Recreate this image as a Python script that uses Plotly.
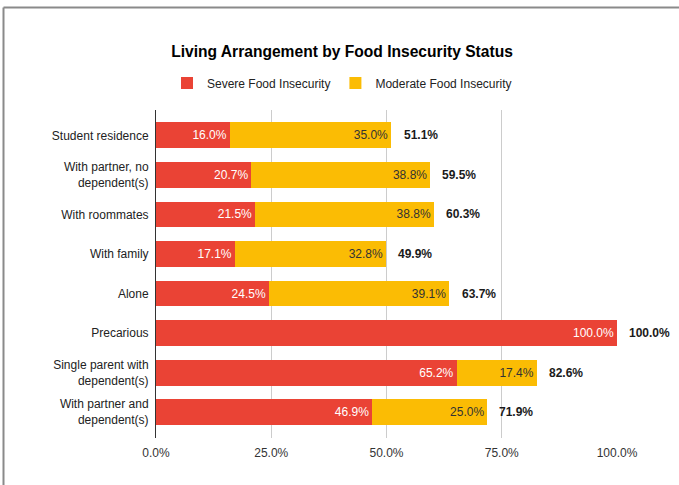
import plotly.graph_objects as go

categories = ["Student residence", "With partner, no<br>dependent(s)", "With roommates",
              "With family", "Alone", "Precarious", "Single parent with<br>dependent(s)",
              "With partner and<br>dependent(s)"]
severe = [16.0, 20.7, 21.5, 17.1, 24.5, 100.0, 65.2, 46.9]
moderate = [35.0, 38.8, 38.8, 32.8, 39.1, 0.0, 17.4, 25.0]
totals = [51.1, 59.5, 60.3, 49.9, 63.7, 100.0, 82.6, 71.9]
x_ticks = [0, 25, 50, 75, 100]

FONT = "Liberation Sans, Arial, sans-serif"
RED = "#EA4335"
YELLOW = "#FBBC04"

fig = go.Figure()
fig.add_trace(go.Bar(
    y=categories, x=severe, orientation="h", name="Severe Food Insecurity",
    marker=dict(color=RED, line=dict(width=0)),
    text=[f"{v:.1f}%" for v in severe], textposition="inside", insidetextanchor="end",
    textfont=dict(color="white", size=12, family=FONT), hoverinfo="skip",
))
fig.add_trace(go.Bar(
    y=categories, x=moderate, orientation="h", name="Moderate Food Insecurity",
    marker=dict(color=YELLOW, line=dict(width=0)),
    text=[f"{v:.1f}%" if v > 0 else "" for v in moderate], textposition="inside",
    insidetextanchor="end",
    textfont=dict(color="#333333", size=12, family=FONT), hoverinfo="skip",
))

for c, t in zip(categories, totals):
    fig.add_annotation(x=t, y=c, xref="x", yref="y", text=f"<b>{t:.1f}%</b>",
                       showarrow=False, xanchor="left", xshift=10,
                       font=dict(size=12, color="#1a1a1a", family=FONT))

W, H = 679, 485
ml, mr, mt, mb = 156, 62, 108, 47
pw, ph = W - ml - mr, H - mt - mb

def px(x):
    return (x - ml) / pw

def py(y):
    return (H - mb - y) / ph

# outer frame
fig.add_shape(type="line", xref="paper", yref="paper",
              x0=px(3.5), x1=px(700), y0=py(5.5), y1=py(5.5),
              line=dict(color="#8a8a8a", width=2))
fig.add_shape(type="line", xref="paper", yref="paper",
              x0=px(3.5), x1=px(3.5), y0=py(5.5), y1=py(500),
              line=dict(color="#8a8a8a", width=2))

fig.update_layout(
    width=W, height=H,
    margin=dict(l=ml, r=mr, t=mt, b=mb),
    paper_bgcolor="white", plot_bgcolor="white",
    barmode="stack", bargap=0.345,
    font=dict(family=FONT, size=12, color="#222222"),
    title=dict(text="<b>Living Arrangement by Food Insecurity Status</b>",
               x=342 / W, xref="container", xanchor="center",
               y=1 - 52 / H, yref="container", yanchor="middle",
               font=dict(size=15.6, color="#000000", family=FONT)),
    legend=dict(orientation="h", xref="container", yref="container",
                x=342 / W, xanchor="center", y=1 - 83 / H, yanchor="middle",
                font=dict(size=12, color="#222222", family=FONT),
                itemwidth=30, traceorder="normal"),
    xaxis=dict(range=[0, 100], tickvals=x_ticks,
               ticktext=[f"{v:.1f}%" for v in x_ticks],
               showgrid=True, gridcolor="#cccccc", gridwidth=1,
               zeroline=False, showline=False, ticks="",
               ticklabelstandoff=6,
               tickfont=dict(size=12, color="#333333", family=FONT),
               fixedrange=True),
    yaxis=dict(categoryorder="array", categoryarray=categories,
               range=[7.5 + 0.156, -0.5 - 0.156],
               showline=True, linecolor="#333333", linewidth=1,
               showgrid=False, zeroline=False, ticks="",
               ticklabelstandoff=4,
               tickfont=dict(size=12, color="#222222", family=FONT),
               fixedrange=True),
)

fig.write_html("out.html", config={"displayModeBar": False},
               post_script="document.body.style.margin='0';document.body.style.overflow='hidden';")
